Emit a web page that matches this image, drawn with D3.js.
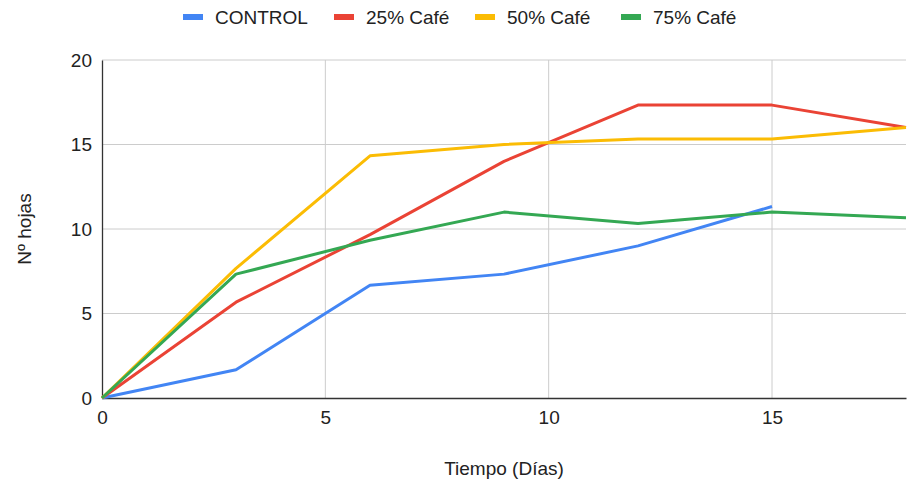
<!DOCTYPE html>
<html>
<head>
<meta charset="utf-8">
<script src="https://cdn.jsdelivr.net/npm/d3@7"></script>
<style>
  body { margin: 0; background: #fff; }
  svg { font-family: "Liberation Sans", Arial, sans-serif; }
</style>
</head>
<body>
<div id="chart"></div>
<script>
// days measured
var dias = [0, 3, 6, 9, 12, 15, 18];
var control = [0, 1.67, 6.67, 7.33, 9, 11.33, null];
var cafe25 = [0, 5.67, 9.67, 14, 17.33, 17.33, 16];
var cafe50 = [0, 7.67, 14.33, 15, 15.33, 15.33, 16];
var cafe75 = [0, 7.33, 9.33, 11, 10.33, 11, 10.67];
var seriesNames = ["CONTROL", "25% Café", "50% Café", "75% Café"];
var colors = ["#4285f4", "#ea4335", "#fbbc04", "#34a853"];
var xTicks = [0, 5, 10, 15];
var yTicks = [0, 5, 10, 15, 20];

var width = 908, height = 481;
var margin = {top: 60, right: 2, bottom: 83, left: 102};
var chartWidth = width - margin.left - margin.right;
var chartHeight = height - margin.top - margin.bottom;
var fs = 19;

var svg = d3.select("#chart").append("svg")
  .attr("width", width)
  .attr("height", height);

var g = svg.append("g").attr("transform", "translate(" + margin.left + "," + margin.top + ")");

var x = d3.scaleLinear().domain([0, 18]).range([0, chartWidth]);
var y = d3.scaleLinear().domain([0, 20]).range([chartHeight, 0]);

// grid
g.selectAll(".hgrid").data(yTicks.slice(1)).enter().append("line")
  .attr("x1", 0).attr("x2", chartWidth)
  .attr("y1", function(d) { return y(d); }).attr("y2", function(d) { return y(d); })
  .attr("stroke", "#cccccc").attr("stroke-width", 1);
g.selectAll(".vgrid").data(xTicks.slice(1)).enter().append("line")
  .attr("y1", 0).attr("y2", chartHeight)
  .attr("x1", function(d) { return x(d); }).attr("x2", function(d) { return x(d); })
  .attr("stroke", "#cccccc").attr("stroke-width", 1);

// axes
var xAxis = d3.axisBottom(x).tickValues(xTicks).tickSize(0).tickPadding(10);
var yAxis = d3.axisLeft(y).tickValues(yTicks).tickSize(0).tickPadding(10);

var xg = g.append("g").attr("transform", "translate(0," + chartHeight + ")").call(xAxis);
var yg = g.append("g").call(yAxis);
[xg, yg].forEach(function(a) {
  a.select(".domain").attr("stroke", "#333333").attr("stroke-width", 1.3);
  a.selectAll("text").attr("font-size", fs).attr("fill", "#222").attr("font-family", "Liberation Sans, Arial, sans-serif");
});
xg.selectAll("text").attr("dy", "0.85em");

// lines
var allSeries = [control, cafe25, cafe50, cafe75];
var line = d3.line()
  .defined(function(d) { return d != null; })
  .x(function(d, i) { return x(dias[i]); })
  .y(function(d) { return y(d); });

allSeries.forEach(function(s, i) {
  g.append("path")
    .attr("fill", "none")
    .attr("stroke", colors[i])
    .attr("stroke-width", 3)
    .attr("stroke-linejoin", "round")
    .attr("d", line(s));
});

// axis titles
svg.append("text")
  .attr("x", margin.left + chartWidth / 2).attr("y", 475)
  .attr("text-anchor", "middle").attr("font-size", fs).attr("fill", "#222")
  .text("Tiempo (Días)");
svg.append("text")
  .attr("transform", "translate(31," + (margin.top + chartHeight / 2) + ") rotate(-90)")
  .attr("text-anchor", "middle").attr("font-size", fs).attr("fill", "#222")
  .text("Nº hojas");

// legend
var legendX = [183, 334, 475, 621];
var legend = svg.selectAll(".legend").data(seriesNames).enter().append("g")
  .attr("transform", function(d, i) { return "translate(" + legendX[i] + ",17)"; });
legend.append("rect")
  .attr("x", 0).attr("y", -3).attr("width", 20).attr("height", 6)
  .attr("fill", function(d, i) { return colors[i]; });
legend.append("text")
  .attr("x", 32).attr("y", 7)
  .attr("font-size", fs).attr("fill", "#222")
  .text(function(d) { return d; });
</script>
</body>
</html>
